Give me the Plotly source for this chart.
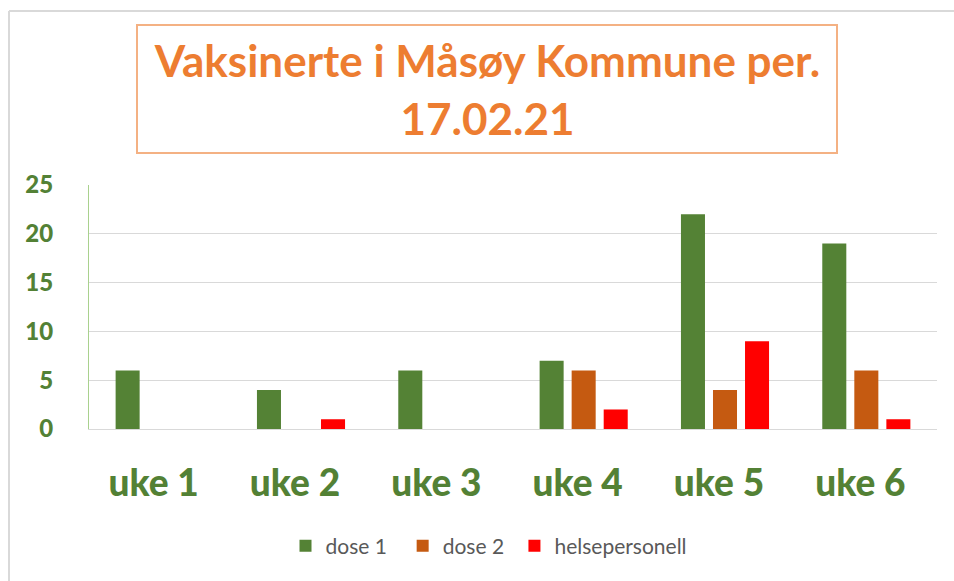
import plotly.graph_objects as go

categories = ["uke 1", "uke 2", "uke 3", "uke 4", "uke 5", "uke 6"]
dose1 = [6, 4, 6, 7, 22, 19]
dose2 = [0, 0, 0, 6, 4, 6]
helsepersonell = [0, 1, 0, 2, 9, 1]
y_ticks = [0, 5, 10, 15, 20, 25]

FONT = "Lato"
GREEN_TXT = "#538135"

fig = go.Figure()
fig.add_trace(go.Bar(name="dose 1&nbsp;&nbsp;", x=categories, y=dose1, marker=dict(color="#548235", line=dict(width=0))))
fig.add_trace(go.Bar(name="dose 2&nbsp;", x=categories, y=dose2, marker=dict(color="#C55A11", line=dict(width=0))))
fig.add_trace(go.Bar(name="helsepersonell", x=categories, y=helsepersonell, marker=dict(color="#FF0000", line=dict(width=0))))

W, H = 954, 581
# target screen coordinates of plot area
SL, SR, ST, SB = 89, 937, 185, 429
L, T, R, B = SL, ST, W - SR, H - SB
pw, ph = W - L - R, H - T - B

def px(x):
    return (x - SL) / pw

def py(y):
    return (SB - y) / ph

fig.update_layout(
    width=W, height=H,
    margin=dict(l=L, r=R, t=T, b=B),
    paper_bgcolor="white", plot_bgcolor="white",
    barmode="group", bargap=0.32, bargroupgap=0.25,
    font=dict(family=FONT),
    showlegend=True,
    legend=dict(orientation="h", x=px(489), xanchor="center", y=py(546), yanchor="middle",
                font=dict(size=21, color="#595959", family=FONT), traceorder="normal",
                itemwidth=30),
    xaxis=dict(showgrid=False, showline=True, linecolor="#D9D9D9", linewidth=1,
               tickfont=dict(size=37, color=GREEN_TXT, family=FONT + " Black"),
               ticklabelstandoff=22, ticklabelshift=-6, ticks=""),
    yaxis=dict(range=[0, 25], tickvals=y_ticks, showgrid=True, gridcolor="#D9D9D9", gridwidth=1,
               showline=True, linecolor="#A9D18E", linewidth=1, zeroline=False,
               tickfont=dict(size=24, color=GREEN_TXT, family=FONT + " Black"),
               ticklabelstandoff=30, ticks=""),
)

fig.add_annotation(
    xref="paper", yref="paper", x=px(487), y=py(89), xanchor="center", yanchor="middle",
    text="<b>Vaksinerte i Måsøy Kommune per.<br>17.02.21</b>",
    showarrow=False, font=dict(size=44, color="#ED7D31", family=FONT),
    bordercolor="#F4B183", borderwidth=2, borderpad=4, bgcolor="white", width=690, height=118,
)

# outer chart border (top and left edges)
fig.add_shape(type="line", xref="paper", yref="paper", x0=px(9), x1=px(960), y0=py(11), y1=py(11),
              line=dict(color="#D9D9D9", width=2))
fig.add_shape(type="line", xref="paper", yref="paper", x0=px(9), x1=px(9), y0=py(11), y1=py(590),
              line=dict(color="#D9D9D9", width=2))

fig.write_html(
    "out.html",
    config={"displayModeBar": False},
    post_script="document.body.style.margin='0';document.body.style.overflow='hidden';",
)
